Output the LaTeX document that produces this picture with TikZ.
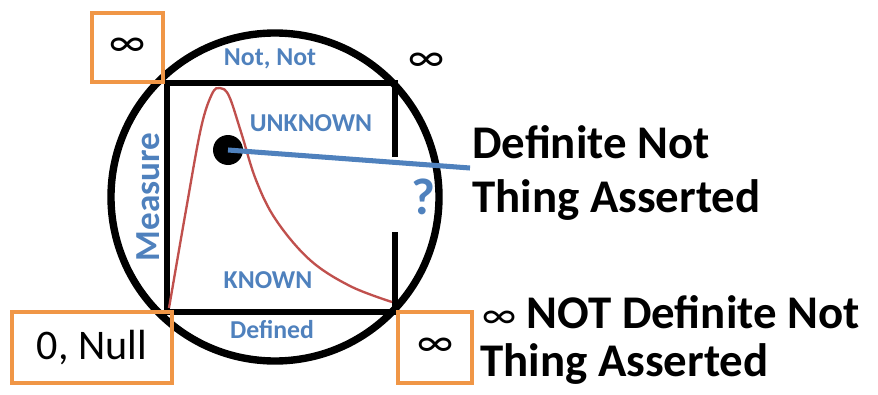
\documentclass[tikz,border=0pt]{standalone}
\usepackage{fontspec}
\setmainfont{Carlito}
\usepackage{tikz}
\usetikzlibrary{calc}
\definecolor{lblblue}{RGB}{79,129,189}
\definecolor{boxorange}{RGB}{240,150,70}
\definecolor{curvered}{RGB}{192,80,77}

\begin{document}
\begin{tikzpicture}[x=0.03cm, y=-0.03cm,
    lbl/.style = {text=lblblue, font=\fontsize{22}{24}\selectfont\bfseries, inner sep=0pt},
    big/.style = {font=\fontsize{40}{44}\selectfont\bfseries, anchor=west, inner sep=0pt},
    infbox/.style = {draw=boxorange, line width=3.4pt, minimum width=2.13cm, minimum height=2.07cm, font=\fontsize{36}{40}\selectfont, inner sep=0pt}]
    \useasboundingbox (0,0) rectangle (878,394);

    \coordinate (c) at (275,197);
    \draw[line width=6.3pt] (c) circle (164);
    \draw[line width=5pt] (395,157) -- (395,83) -- (167,83) -- (167,312) -- (395,312) -- (395,232);

    \draw[curvered, line width=2pt] plot[smooth, tension=0.6] coordinates {(169,308) (186,210) (201,128) (212,94) (220,88) (229,96) (241,132) (256,180) (276,220) (310,260) (350,286) (392,302)};

    \node[lbl] (notnot) at (270,59) {Not, Not};
    \node[lbl] (unknown) at (311,123) {UNKNOWN};
    \node[lbl] (known) at (268,280) {KNOWN};
    \node[lbl] (defined) at (272,330) {Defined};
    \node[lbl, rotate=90, font=\fontsize{30}{32}\selectfont\bfseries] (measure) at (148,197) {Measure};
    \node[lbl, font=\fontsize{44}{48}\selectfont\bfseries] (q) at (423,197) {?};

    \node[circle, fill=black, minimum size=0.9cm, inner sep=0pt] (dot) at (228,150) {};
    \coordinate (tip) at (470,168);
    \draw[lblblue, line width=4.3pt] (dot.center) -- (tip);

    \node[infbox] (inftl) at (127.5,47.5) {∞};
    \node[infbox, minimum width=4.8cm, minimum height=2.13cm] (null) at (92,347.5) {0, Null};
    \node[infbox, minimum width=2.22cm, minimum height=2.13cm] (infbr) at (435,347.5) {∞};
    \node[font=\fontsize{36}{40}\selectfont, inner sep=0pt] (inftr) at (426,62) {∞};

    \node[big] (def1) at (472,142) {Definite Not};
    \node[big] (def2) at (472,200) {Thing Asserted};
    \node[big] (notdef1) at (482,312) {{\mdseries\fontsize{34}{36}\selectfont ∞} NOT Definite Not};
    \node[big] (notdef2) at (480,364) {Thing Asserted};
\end{tikzpicture}
\end{document}
